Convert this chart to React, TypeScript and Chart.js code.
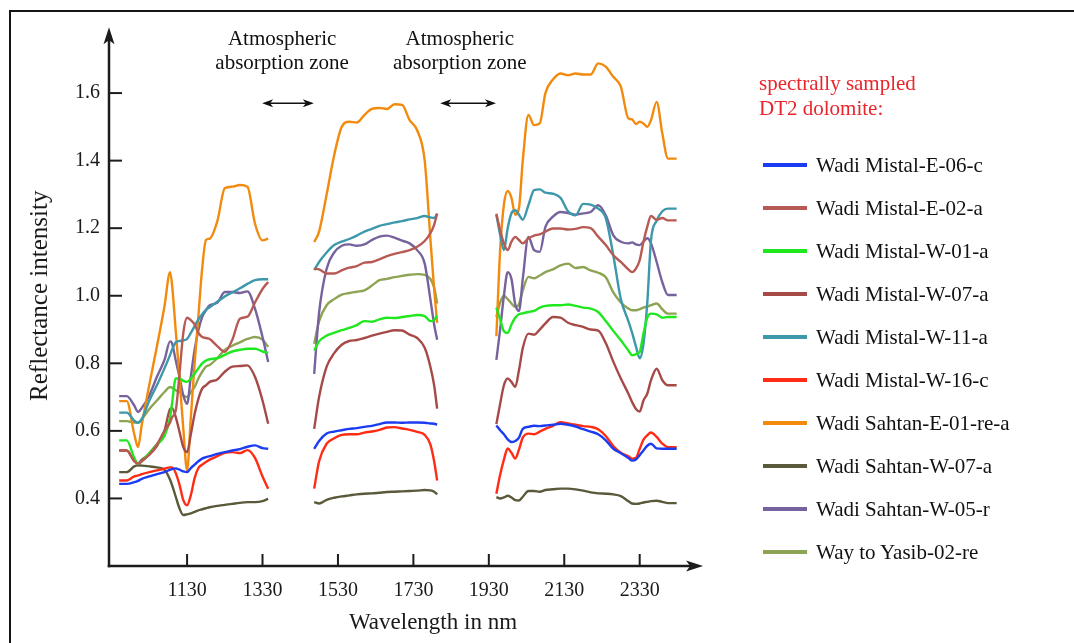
import React, { useEffect, useRef } from "react";
import { Chart, registerables } from "chart.js";

Chart.register(...registerables);

const FONT = '"Liberation Serif", "Times New Roman", serif';

// Wavelengths (nm) of the three measured segments
const WL_LEFT = [950, 970, 990, 1000, 1010, 1030, 1050, 1070, 1085, 1090, 1100, 1110, 1120, 1130, 1140, 1150, 1160, 1170, 1180, 1190, 1210, 1230, 1250, 1270, 1290, 1310, 1330, 1345];
const WL_MID = [1467, 1480, 1500, 1520, 1540, 1560, 1580, 1600, 1620, 1640, 1660, 1680, 1700, 1720, 1740, 1760, 1775, 1785, 1793];
const WL_RIGHT = [1950, 1960, 1970, 1980, 1990, 2000, 2010, 2020, 2035, 2050, 2065, 2080, 2100, 2120, 2140, 2160, 2180, 2200, 2220, 2240, 2260, 2280, 2300, 2310, 2320, 2330, 2340, 2350, 2360, 2375, 2390, 2405, 2428];
const GAP_WL = [1400, 1870];

// Reflectance per sample: [left, mid, right]
const mistalE06c = [
  [0.443, 0.443, 0.448, 0.452, 0.458, 0.465, 0.472, 0.478, 0.485, 0.487, 0.489, 0.485, 0.48, 0.478, 0.49, 0.50, 0.51, 0.518, 0.522, 0.525, 0.532, 0.537, 0.542, 0.546, 0.553, 0.557, 0.549, 0.547],
  [0.547, 0.57, 0.592, 0.598, 0.602, 0.606, 0.608, 0.612, 0.615, 0.62, 0.625, 0.625, 0.624, 0.625, 0.625, 0.624, 0.622, 0.621, 0.619],
  [0.616, 0.602, 0.59, 0.575, 0.567, 0.57, 0.58, 0.606, 0.612, 0.615, 0.614, 0.616, 0.618, 0.621, 0.618, 0.613, 0.605, 0.598, 0.59, 0.572, 0.547, 0.534, 0.52, 0.512, 0.515, 0.528, 0.542, 0.556, 0.562, 0.548, 0.547, 0.547, 0.547],
];
const mistalE02a = [
  [0.542, 0.542, 0.51, 0.503, 0.51, 0.53, 0.56, 0.60, 0.625, 0.64, 0.66, 0.77, 0.89, 0.935, 0.928, 0.915, 0.89, 0.878, 0.875, 0.872, 0.851, 0.834, 0.87, 0.932, 0.938, 0.98, 1.02, 1.041],
  [1.080, 1.078, 1.066, 1.066, 1.075, 1.083, 1.088, 1.098, 1.100, 1.108, 1.117, 1.124, 1.129, 1.135, 1.145, 1.162, 1.185, 1.21, 1.243],
  [1.243, 1.194, 1.155, 1.135, 1.16, 1.174, 1.165, 1.155, 1.17, 1.178, 1.182, 1.19, 1.199, 1.199, 1.196, 1.198, 1.203, 1.200, 1.175, 1.15, 1.12, 1.10, 1.078, 1.07, 1.08, 1.105, 1.16, 1.204, 1.236, 1.225, 1.23, 1.223, 1.223],
];
const mistalW01a = [
  [0.572, 0.572, 0.52, 0.503, 0.51, 0.535, 0.56, 0.585, 0.64, 0.68, 0.755, 0.755, 0.748, 0.745, 0.755, 0.77, 0.785, 0.80, 0.808, 0.812, 0.815, 0.825, 0.835, 0.84, 0.843, 0.843, 0.835, 0.831],
  [0.838, 0.865, 0.882, 0.89, 0.898, 0.905, 0.913, 0.925, 0.923, 0.93, 0.935, 0.934, 0.937, 0.94, 0.943, 0.94, 0.925, 0.928, 0.942],
  [0.965, 0.93, 0.895, 0.89, 0.915, 0.935, 0.945, 0.948, 0.952, 0.955, 0.965, 0.97, 0.972, 0.972, 0.974, 0.97, 0.965, 0.962, 0.952, 0.925, 0.896, 0.868, 0.838, 0.824, 0.827, 0.834, 0.888, 0.935, 0.947, 0.945, 0.935, 0.937, 0.937],
];
const mistalW07a = [
  [0.542, 0.542, 0.51, 0.503, 0.515, 0.53, 0.555, 0.60, 0.665, 0.668, 0.641, 0.597, 0.552, 0.537, 0.59, 0.65, 0.695, 0.725, 0.735, 0.745, 0.752, 0.775, 0.79, 0.792, 0.794, 0.76, 0.69, 0.621],
  [0.606, 0.70, 0.79, 0.83, 0.855, 0.866, 0.869, 0.875, 0.882, 0.888, 0.893, 0.898, 0.897, 0.885, 0.875, 0.846, 0.79, 0.735, 0.666],
  [0.62, 0.68, 0.735, 0.755, 0.745, 0.73, 0.78, 0.845, 0.888, 0.885, 0.9, 0.918, 0.937, 0.935, 0.92, 0.913, 0.908, 0.9, 0.897, 0.86, 0.805, 0.755, 0.71, 0.685, 0.665, 0.657, 0.69, 0.71, 0.75, 0.784, 0.75, 0.735, 0.735],
];
const mistalW11a = [
  [0.654, 0.654, 0.630, 0.624, 0.635, 0.690, 0.735, 0.785, 0.825, 0.840, 0.862, 0.866, 0.868, 0.872, 0.890, 0.910, 0.93, 0.945, 0.958, 0.966, 0.982, 0.998, 1.010, 1.022, 1.035, 1.046, 1.049, 1.049],
  [1.076, 1.10, 1.128, 1.15, 1.16, 1.168, 1.178, 1.19, 1.198, 1.207, 1.212, 1.217, 1.221, 1.226, 1.230, 1.236, 1.232, 1.230, 1.243],
  [1.24, 1.18, 1.135, 1.20, 1.244, 1.253, 1.24, 1.225, 1.268, 1.313, 1.315, 1.305, 1.302, 1.29, 1.25, 1.238, 1.272, 1.27, 1.258, 1.23, 1.12, 0.99, 0.925, 0.89, 0.85, 0.815, 0.858, 0.977, 1.165, 1.222, 1.25, 1.258, 1.258],
];
const mistalW16c = [
  [0.453, 0.453, 0.465, 0.468, 0.472, 0.478, 0.483, 0.488, 0.492, 0.492, 0.475, 0.44, 0.395, 0.38, 0.41, 0.46, 0.49, 0.50, 0.508, 0.515, 0.525, 0.535, 0.537, 0.534, 0.543, 0.52, 0.465, 0.429],
  [0.429, 0.51, 0.562, 0.578, 0.588, 0.59, 0.59, 0.595, 0.598, 0.603, 0.61, 0.611, 0.607, 0.603, 0.597, 0.588, 0.56, 0.51, 0.453],
  [0.414, 0.47, 0.515, 0.548, 0.535, 0.518, 0.545, 0.58, 0.592, 0.59, 0.598, 0.606, 0.615, 0.626, 0.622, 0.618, 0.614, 0.612, 0.605, 0.585, 0.555, 0.535, 0.525, 0.518, 0.52, 0.547, 0.574, 0.587, 0.595, 0.582, 0.562, 0.552, 0.552],
];
const sahtanE01rea = [
  [0.688, 0.688, 0.59, 0.552, 0.619, 0.737, 0.85, 0.968, 1.07, 1.035, 0.895, 0.757, 0.606, 0.483, 0.64, 0.80, 0.94, 1.08, 1.165, 1.169, 1.22, 1.318, 1.323, 1.328, 1.323, 1.214, 1.164, 1.169],
  [1.159, 1.19, 1.30, 1.416, 1.50, 1.515, 1.513, 1.535, 1.553, 1.556, 1.553, 1.567, 1.565, 1.52, 1.49, 1.40, 1.17, 1.02, 0.92],
  [0.88, 1.135, 1.27, 1.31, 1.29, 1.24, 1.26, 1.40, 1.535, 1.505, 1.51, 1.60, 1.64, 1.658, 1.653, 1.658, 1.655, 1.655, 1.688, 1.678, 1.648, 1.619, 1.525, 1.522, 1.508, 1.515, 1.51, 1.50, 1.52, 1.574, 1.48, 1.406, 1.406],
];
const sahtanW07a = [
  [0.478, 0.478, 0.495, 0.498, 0.497, 0.495, 0.492, 0.485, 0.455, 0.44, 0.405, 0.37, 0.351, 0.353, 0.356, 0.36, 0.365, 0.368, 0.371, 0.374, 0.378, 0.381, 0.384, 0.387, 0.389, 0.389, 0.392, 0.399],
  [0.389, 0.385, 0.396, 0.402, 0.406, 0.409, 0.412, 0.414, 0.415, 0.417, 0.419, 0.42, 0.421, 0.422, 0.423, 0.425, 0.424, 0.42, 0.412],
  [0.404, 0.400, 0.403, 0.408, 0.403, 0.395, 0.394, 0.405, 0.422, 0.422, 0.42, 0.425, 0.427, 0.429, 0.429, 0.427, 0.423, 0.418, 0.415, 0.414, 0.412, 0.407, 0.392, 0.385, 0.384, 0.385, 0.388, 0.39, 0.392, 0.393, 0.39, 0.386, 0.386],
];
const sahtanW05r = [
  [0.703, 0.703, 0.675, 0.656, 0.668, 0.705, 0.76, 0.81, 0.865, 0.86, 0.808, 0.759, 0.705, 0.68, 0.761, 0.84, 0.898, 0.937, 0.957, 0.972, 0.979, 1.011, 1.011, 1.008, 1.013, 0.962, 0.878, 0.804],
  [0.769, 0.95, 1.08, 1.128, 1.148, 1.152, 1.148, 1.152, 1.165, 1.175, 1.178, 1.172, 1.163, 1.155, 1.135, 1.095, 0.99, 0.915, 0.87],
  [0.81, 0.90, 1.00, 1.07, 1.05, 0.975, 0.955, 1.05, 1.174, 1.135, 1.13, 1.204, 1.234, 1.248, 1.245, 1.24, 1.244, 1.248, 1.268, 1.238, 1.179, 1.16, 1.155, 1.158, 1.152, 1.15, 1.16, 1.17, 1.155, 1.10, 1.04, 1.002, 1.002],
];
const yasib02re = [
  [0.629, 0.629, 0.625, 0.625, 0.635, 0.665, 0.69, 0.715, 0.73, 0.728, 0.72, 0.715, 0.705, 0.70, 0.715, 0.73, 0.755, 0.775, 0.79, 0.795, 0.815, 0.84, 0.852, 0.862, 0.872, 0.878, 0.87, 0.848],
  [0.858, 0.925, 0.972, 0.99, 1.003, 1.008, 1.012, 1.016, 1.03, 1.046, 1.05, 1.055, 1.059, 1.062, 1.064, 1.062, 1.05, 1.025, 0.977],
  [0.937, 0.98, 1.0, 0.99, 0.977, 0.967, 0.975, 1.016, 1.056, 1.052, 1.06, 1.07, 1.078, 1.09, 1.095, 1.082, 1.085, 1.075, 1.068, 1.055, 1.01, 0.98, 0.962, 0.957, 0.957, 0.96, 0.965, 0.968, 0.972, 0.977, 0.96, 0.947, 0.947],
];

const SERIES_LABELS = [
  "Wadi Mistal-E-06-c",
  "Wadi Mistal-E-02-a",
  "Wadi Mistal-W-01-a",
  "Wadi Mistal-W-07-a",
  "Wadi Mistal-W-11-a",
  "Wadi Mistal-W-16-c",
  "Wadi Sahtan-E-01-re-a",
  "Wadi Sahtan-W-07-a",
  "Wadi Sahtan-W-05-r",
  "Way to Yasib-02-re",
];
const SERIES_COLORS = ["#1c3cf2", "#b85a54", "#1fe81f", "#a64a48", "#3c98aa", "#ff2b14", "#f28a0e", "#5a593a", "#76629c", "#8ca454"];
const SERIES_VALUES = [mistalE06c, mistalE02a, mistalW01a, mistalW07a, mistalW11a, mistalW16c, sahtanE01rea, sahtanW07a, sahtanW05r, yasib02re];

const X_TICKS = [1130, 1330, 1530, 1730, 1930, 2130, 2330];
const Y_TICKS = [0.4, 0.6, 0.8, 1.0, 1.2, 1.4, 1.6];
const ABSORPTION_ZONES = [[1329, 1466], [1801, 1949]];
const ZONE_LABEL_WL = [1382, 1853];
const ZONE_ARROW_Y = 1.57;
const X_ARROW_END = 2498;
const Y_ARROW_END = 1.795;

function buildPoints(seg: number[][]) {
  const pts: { x: number; y: number | null }[] = [];
  WL_LEFT.forEach((x, i) => pts.push({ x, y: seg[0][i] }));
  pts.push({ x: GAP_WL[0], y: null });
  WL_MID.forEach((x, i) => pts.push({ x, y: seg[1][i] }));
  pts.push({ x: GAP_WL[1], y: null });
  WL_RIGHT.forEach((x, i) => pts.push({ x, y: seg[2][i] }));
  return pts;
}

const overlayPlugin = {
  id: "overlay",
  afterDraw(chart: any) {
    const { ctx, chartArea, scales } = chart;
    const xs = scales.x;
    const ys = scales.y;
    const left = chartArea.left;
    const bottom = chartArea.bottom;
    ctx.save();
    ctx.strokeStyle = "#1c1c1c";
    ctx.fillStyle = "#1c1c1c";
    ctx.lineWidth = 2.5;
    const yTop = ys.getPixelForValue(Y_ARROW_END);
    const xEnd = xs.getPixelForValue(X_ARROW_END);
    ctx.beginPath();
    ctx.moveTo(left, bottom + 1.25);
    ctx.lineTo(left, yTop + 12);
    ctx.stroke();
    ctx.beginPath();
    ctx.moveTo(left - 1.25, bottom);
    ctx.lineTo(xEnd - 12, bottom);
    ctx.stroke();
    ctx.beginPath();
    ctx.moveTo(left, yTop);
    ctx.lineTo(left - 5.5, yTop + 17);
    ctx.lineTo(left, yTop + 13);
    ctx.lineTo(left + 5.5, yTop + 17);
    ctx.closePath();
    ctx.fill();
    ctx.beginPath();
    ctx.moveTo(xEnd, bottom);
    ctx.lineTo(xEnd - 17, bottom - 5.5);
    ctx.lineTo(xEnd - 13, bottom);
    ctx.lineTo(xEnd - 17, bottom + 5.5);
    ctx.closePath();
    ctx.fill();
    ctx.lineWidth = 2;
    Y_TICKS.forEach((v) => {
      const p = ys.getPixelForValue(v);
      ctx.beginPath();
      ctx.moveTo(left, p);
      ctx.lineTo(left + 13, p);
      ctx.stroke();
    });
    X_TICKS.forEach((v) => {
      const p = xs.getPixelForValue(v);
      ctx.beginPath();
      ctx.moveTo(p, bottom);
      ctx.lineTo(p, bottom - 12);
      ctx.stroke();
    });
    // Absorption zone labels
    ctx.fillStyle = "#111";
    ctx.font = `21px ${FONT}`;
    ctx.textAlign = "center";
    ctx.textBaseline = "middle";
    ZONE_LABEL_WL.forEach((w) => {
      const p = xs.getPixelForValue(w);
      ctx.fillText("Atmospheric", p, chartArea.top + 13.5);
      ctx.fillText("absorption zone", p, chartArea.top + 37.5);
    });
    // Double-headed arrows
    const ay = ys.getPixelForValue(ZONE_ARROW_Y);
    ctx.lineWidth = 1.6;
    ctx.strokeStyle = "#111";
    ABSORPTION_ZONES.forEach(([a, b]) => {
      const pa = xs.getPixelForValue(a);
      const pb = xs.getPixelForValue(b);
      ctx.beginPath();
      ctx.moveTo(pa + 6, ay);
      ctx.lineTo(pb - 6, ay);
      ctx.stroke();
      ctx.beginPath();
      ctx.moveTo(pa, ay);
      ctx.lineTo(pa + 11, ay - 4);
      ctx.lineTo(pa + 8, ay);
      ctx.lineTo(pa + 11, ay + 4);
      ctx.closePath();
      ctx.fill();
      ctx.beginPath();
      ctx.moveTo(pb, ay);
      ctx.lineTo(pb - 11, ay - 4);
      ctx.lineTo(pb - 8, ay);
      ctx.lineTo(pb - 11, ay + 4);
      ctx.closePath();
      ctx.fill();
    });
    ctx.restore();
  },
};

export default function App() {
  const canvasRef = useRef<HTMLCanvasElement | null>(null);

  useEffect(() => {
    if (!canvasRef.current) return;
    const datasets = SERIES_VALUES.map((seg, i) => ({
      label: SERIES_LABELS[i],
      data: buildPoints(seg),
      borderColor: SERIES_COLORS[i],
      backgroundColor: SERIES_COLORS[i],
      borderWidth: 2.4,
      pointRadius: 0,
      cubicInterpolationMode: "monotone" as const,
      spanGaps: false,
      fill: false,
    }));
    const chart = new Chart(canvasRef.current, {
      type: "line",
      data: { datasets },
      options: {
        responsive: false,
        animation: false,
        devicePixelRatio: 1,
        layout: { padding: { left: 0, right: 317, top: 25.5, bottom: 0 } },
        plugins: { legend: { display: false }, tooltip: { enabled: false } },
        scales: {
          x: {
            type: "linear",
            min: 923,
            max: 2641,
            grid: { display: false, drawTicks: false },
            border: { display: false },
            afterBuildTicks: (s: any) => {
              s.ticks = X_TICKS.map((value) => ({ value }));
            },
            afterFit: (s: any) => {
              s.height = 77;
            },
            ticks: {
              padding: 13,
              autoSkip: false,
              maxRotation: 0,
              color: "#1a1a1a",
              font: { family: FONT, size: 20 },
              callback: (v: any) => String(v),
            },
            title: {
              display: true,
              text: "Wavelength in nm",
              color: "#1a1a1a",
              font: { family: FONT, size: 23 },
              padding: { top: 0, bottom: 6.2 },
            },
          },
          y: {
            type: "linear",
            min: 0.2,
            max: 1.8,
            grid: { display: false, drawTicks: false },
            border: { display: false },
            afterBuildTicks: (s: any) => {
              s.ticks = Y_TICKS.map((value) => ({ value }));
            },
            afterFit: (s: any) => {
              s.width = 109;
            },
            ticks: {
              padding: 9,
              color: "#1a1a1a",
              font: { family: FONT, size: 20 },
              callback: (v: any) => Number(v).toFixed(1),
            },
            title: {
              display: true,
              text: "Reflectance intensity",
              color: "#1a1a1a",
              font: { family: FONT, size: 25 },
              padding: { top: 25, bottom: 0 },
            },
          },
        },
      },
      plugins: [overlayPlugin],
    });
    return () => chart.destroy();
  }, []);

  return (
    <div style={{ position: "fixed", left: 0, top: 0, width: 1074, height: 643, overflow: "hidden", background: "#fff" }}>
      <div
        style={{
          position: "absolute",
          left: 8.5,
          top: 10,
          width: 1200,
          height: 800,
          borderLeft: "2.5px solid #151515",
          borderTop: "2.5px solid #151515",
        }}
      />
      <canvas ref={canvasRef} width={1074} height={643} style={{ position: "absolute", left: 0, top: 0, width: 1074, height: 643 }} />
      <div
        style={{
          position: "absolute",
          left: 759,
          top: 70.5,
          fontFamily: FONT,
          fontSize: 21,
          lineHeight: "25px",
          color: "#e8262c",
          whiteSpace: "nowrap",
        }}
      >
        spectrally sampled
        <br />
        DT2 dolomite:
      </div>
      {SERIES_LABELS.map((label, i) => (
        <div key={label} style={{ position: "absolute", left: 763, top: 165 + 43 * i - 12, height: 24, whiteSpace: "nowrap" }}>
          <span
            style={{
              position: "absolute",
              left: 0,
              top: 10.25,
              width: 44,
              height: 3.5,
              background: SERIES_COLORS[i],
            }}
          />
          <span
            style={{
              position: "absolute",
              left: 53,
              top: 0,
              fontFamily: FONT,
              fontSize: 21,
              lineHeight: "24px",
              color: "#111",
            }}
          >
            {label}
          </span>
        </div>
      ))}
    </div>
  );
}
